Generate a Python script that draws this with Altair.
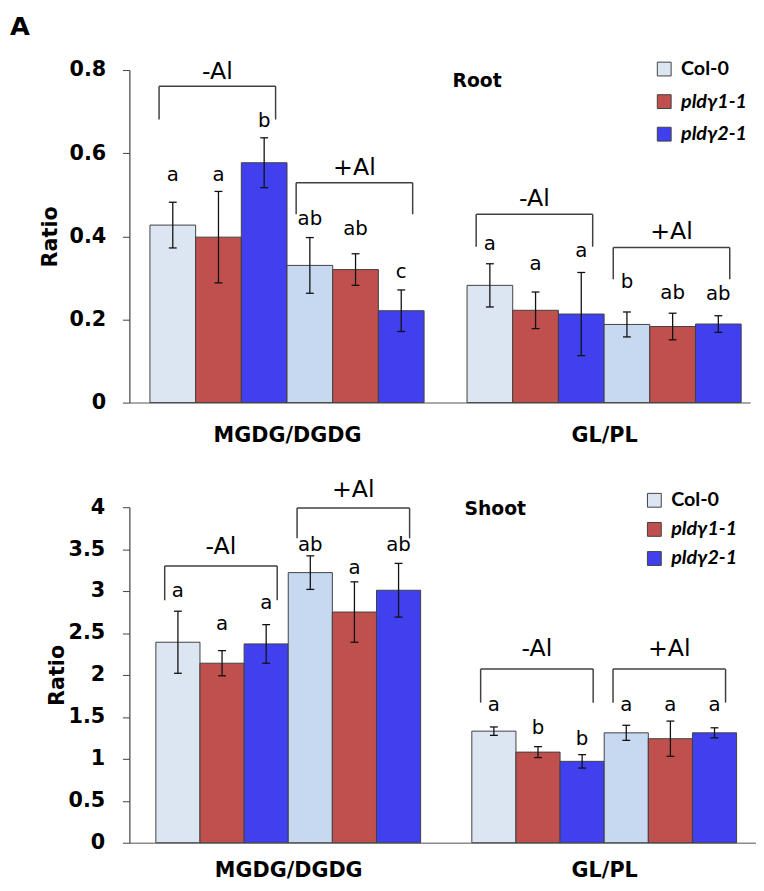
import altair as alt
import pandas as pd

# ---------------- data ----------------
genotypes = ["Col-0", "pldγ1-1", "pldγ2-1"]
treatments = ["-Al", "+Al"]
groups = ["MGDG/DGDG", "GL/PL"]

# Root (order: group -> treatment -> genotype)
root_mean = [0.427, 0.398, 0.577, 0.330, 0.320, 0.221,
             0.282, 0.222, 0.213, 0.188, 0.183, 0.189]
root_err = [0.055, 0.110, 0.060, 0.067, 0.038, 0.050,
            0.052, 0.044, 0.100, 0.030, 0.032, 0.020]
root_letters = ["a", "a", "b", "ab", "ab", "c",
                "a", "a", "a", "b", "ab", "ab"]
root_letter_y = [0.532, 0.532, 0.662, 0.427, 0.404, 0.299,
                 0.368, 0.320, 0.351, 0.275, 0.249, 0.247]
# brackets: label y, bracket top y, drop end y
root_br_label_y = [0.779, 0.548, 0.472, 0.394]
root_br_top = [0.761, 0.529, 0.453, 0.373]
root_br_drop = [0.681, 0.453, 0.375, 0.297]

# Shoot
shoot_mean = [2.39, 2.14, 2.37, 3.22, 2.75, 3.01,
              1.33, 1.08, 0.97, 1.31, 1.24, 1.31]
shoot_err = [0.37, 0.15, 0.23, 0.20, 0.36, 0.32,
             0.05, 0.065, 0.08, 0.09, 0.21, 0.06]
shoot_letters = ["a", "a", "a", "ab", "a", "ab",
                 "a", "b", "b", "a", "a", "a"]
shoot_letter_y = [2.93, 2.53, 2.79, 3.48, 3.20, 3.48,
                  1.57, 1.30, 1.17, 1.57, 1.57, 1.57]
shoot_br_label_y = [3.44, 4.12, 2.22, 2.22]
shoot_br_top = [3.30, 3.99, 2.07, 2.07]
shoot_br_drop = [2.89, 3.63, 1.67, 1.67]

colors = {
    ("Col-0", "-Al"): "#DCE6F2", ("pldγ1-1", "-Al"): "#C0504D", ("pldγ2-1", "-Al"): "#4040EE",
    ("Col-0", "+Al"): "#C6D9F1", ("pldγ1-1", "+Al"): "#C0504D", ("pldγ2-1", "+Al"): "#4040EE",
}

FONT = "DejaVu Sans"
LFONT = "Lato"


def panel(means, errs, letters, letter_y, br_label_y, br_top, br_drop,
          tissue, group_starts, xmax, ymax, yticks, width, height,
          tissue_pos, legend_xy, legend_rowpad, title_pad, label_pad, xlabel_pad,
          panel_label, panel_label_xy, panel_label_opacity):
    rows = []
    k = 0
    for gi, g in enumerate(groups):
        for ti, t in enumerate(treatments):
            for si, gen in enumerate(genotypes):
                start = group_starts[gi] + ti * 3 + si
                rows.append(dict(group=g, treat=t, gen=gen,
                                 key=gen + "|" + t,
                                 x0=start, x1=start + 1, xc=start + 0.5,
                                 v=means[k], lo=means[k] - errs[k], hi=means[k] + errs[k],
                                 letter=letters[k], ly=letter_y[k]))
                k += 1
    df = pd.DataFrame(rows)

    br = []
    b = 0
    for gi, g in enumerate(groups):
        for ti, t in enumerate(treatments):
            s = group_starts[gi] + ti * 3
            br.append(dict(label=t, xl=s + 0.2, xr=s + 2.75, xm=s + 1.475,
                           ly=br_label_y[b], top=br_top[b], drop=br_drop[b]))
            b += 1
    dbr = pd.DataFrame(br)

    xs = alt.Scale(domain=[0, xmax], nice=False, zero=False)
    ys = alt.Scale(domain=[0, ymax], nice=False)

    keys = [gen + "|" + t for t in treatments for gen in genotypes]
    ranges = [colors[(gen, t)] for t in treatments for gen in genotypes]

    centers = [group_starts[0] + 3, group_starts[1] + 3]
    xaxis = alt.Axis(values=centers, title=None, ticks=False, grid=False,
                     labelExpr=f"datum.value < {group_starts[1]} ? '{groups[0]}' : '{groups[1]}'",
                     labelFont=FONT, labelFontSize=21, labelFontWeight="bold",
                     labelColor="#000", labelPadding=xlabel_pad, domainColor="#8c8c8c",
                     domainWidth=1.5, labelFlush=False)
    yaxis = alt.Axis(values=yticks, format="~g", title="Ratio", grid=False,
                     titleFont=FONT, titleFontSize=21, titleFontWeight="bold",
                     titleColor="#000", titlePadding=title_pad,
                     labelFont=FONT, labelFontSize=21, labelFontWeight="bold",
                     labelColor="#000", labelPadding=label_pad, tickSize=7,
                     tickColor="#404040", domainColor="#404040", domainWidth=1.2)

    legend = alt.Legend(
        title=None, orient="none", legendX=legend_xy[0], legendY=legend_xy[1],
        values=keys[:3], labelExpr="split(datum.label, '|')[0]",
        symbolType="square", symbolSize=196, symbolStrokeColor="#404040",
        symbolStrokeWidth=1, symbolOpacity=1,
        labelFont=LFONT, labelFontSize=20, labelFontWeight="bold", labelColor="#000",
        labelFontStyle=alt.ExprRef("indexof(datum.label, 'pld') >= 0 ? 'italic' : 'normal'"),
        labelOffset=7, rowPadding=legend_rowpad, padding=0,
    )

    bars = alt.Chart(df).mark_bar(stroke="#404040", strokeWidth=1).encode(
        x=alt.X("x0:Q", scale=xs, axis=xaxis),
        x2="x1",
        y=alt.Y("v:Q", scale=ys, axis=yaxis),
        y2=alt.Y2(datum=0),
        fill=alt.Fill("key:N", scale=alt.Scale(domain=keys, range=ranges), legend=legend),
    )
    ebar = alt.Chart(df).mark_rule(color="#111", strokeWidth=1.3).encode(
        x="xc:Q", y="lo:Q", y2="hi")
    cap_hi = alt.Chart(df).mark_tick(orient="horizontal", size=8, thickness=1.3,
                                     color="#111", opacity=1).encode(x="xc:Q", y="hi:Q")
    cap_lo = alt.Chart(df).mark_tick(orient="horizontal", size=8, thickness=1.3,
                                     color="#111", opacity=1).encode(x="xc:Q", y="lo:Q")
    lett = alt.Chart(df).mark_text(font=FONT, fontSize=20, baseline="alphabetic",
                                   color="#000").encode(x="xc:Q", y="ly:Q", text="letter:N")

    br_top_rule = alt.Chart(dbr).mark_rule(color="#404040", strokeWidth=1.5).encode(
        x="xl:Q", x2="xr", y="top:Q")
    br_l = alt.Chart(dbr).mark_rule(color="#404040", strokeWidth=1.5).encode(
        x="xl:Q", y="drop:Q", y2="top")
    br_r = alt.Chart(dbr).mark_rule(color="#404040", strokeWidth=1.5).encode(
        x="xr:Q", y="drop:Q", y2="top")
    br_txt = alt.Chart(dbr).mark_text(font=FONT, fontSize=24, baseline="alphabetic",
                                      color="#000").encode(x="xm:Q", y="ly:Q", text="label:N")

    tis = alt.Chart(pd.DataFrame([dict(t=tissue, x=tissue_pos[0], y=tissue_pos[1])])).mark_text(
        font=FONT, fontSize=19, fontWeight="bold", baseline="alphabetic", color="#000"
    ).encode(x="x:Q", y="y:Q", text="t:N")

    # panel letter (placed in pixels relative to the plot area)
    plab = alt.Chart(pd.DataFrame([dict(t=panel_label)])).mark_text(
        font=FONT, fontSize=26, fontWeight="bold", align="left", baseline="alphabetic",
        color="#000", opacity=panel_label_opacity
    ).encode(x=alt.value(panel_label_xy[0]), y=alt.value(panel_label_xy[1]), text="t:N")

    return alt.layer(bars, ebar, cap_hi, cap_lo, lett, br_top_rule, br_l, br_r, br_txt, tis,
                     plab).properties(width=width, height=height)


top = panel(root_mean, root_err, root_letters, root_letter_y, root_br_label_y, root_br_top,
            root_br_drop, "Root", group_starts=[0.45, 7.39], xmax=13.585, ymax=0.8,
            yticks=[0, 0.2, 0.4, 0.6, 0.8], width=629, height=337,
            tissue_pos=[7.61, 0.760], legend_xy=[532, -11], legend_rowpad=13,
            title_pad=9, label_pad=17, xlabel_pad=22,
            panel_label="A", panel_label_xy=[-121, -36], panel_label_opacity=1)

bottom = panel(shoot_mean, shoot_err, shoot_letters, shoot_letter_y, shoot_br_label_y,
               shoot_br_top, shoot_br_drop, "Shoot", group_starts=[0.6, 7.76], xmax=14.2,
               ymax=4, yticks=[0, 0.5, 1, 1.5, 2, 2.5, 3, 3.5, 4], width=635, height=340,
               tissue_pos=[8.29, 3.91], legend_xy=[522, -17], legend_rowpad=9.5,
               title_pad=1, label_pad=18, xlabel_pad=17,
               panel_label="A", panel_label_xy=[-115, 30], panel_label_opacity=0)

chart = alt.vconcat(top, bottom, spacing=33).properties(
    padding={"left": 2, "top": 0, "right": 0, "bottom": 0},
).configure_view(stroke=None).resolve_scale(fill="independent")

chart.save("out.html", embed_options={"renderer": "svg", "actions": False})
